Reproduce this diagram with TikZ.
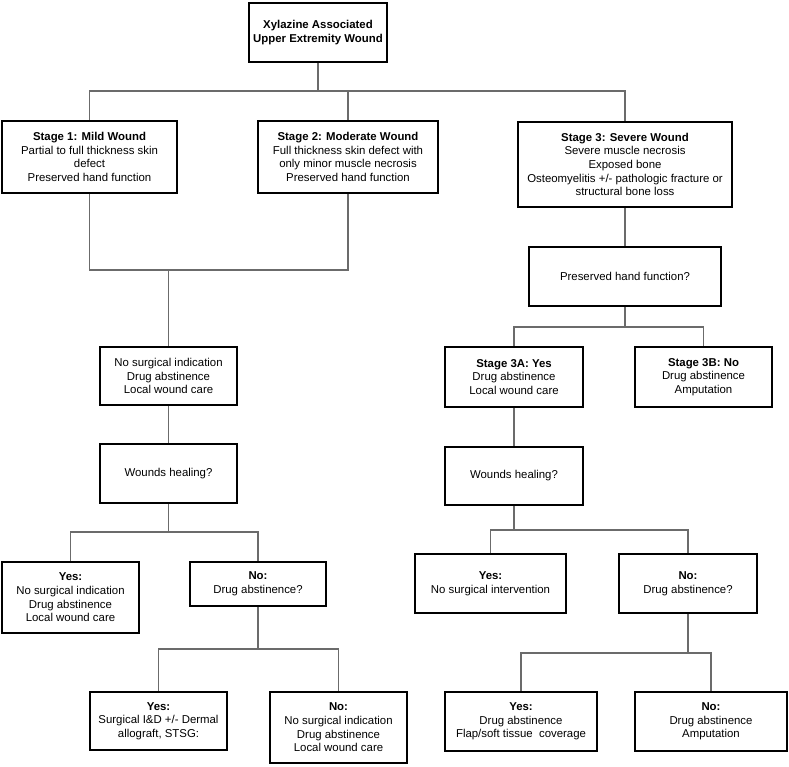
\documentclass[tikz,border=0pt]{standalone}
\usepackage{fontspec}
\setmainfont{Liberation Sans}
\begin{document}
\begin{tikzpicture}[x=1pt,y=-1pt,
  box/.style={draw=black, line width=1.8pt, rectangle, align=center, inner sep=0pt,
    font=\fontsize{11.4}{13.6}\selectfont, text=black},
  conn/.style={draw=black!58, line width=1.4pt}]
\useasboundingbox[fill=white] (0,0) rectangle (789,766);
% nodes
\node[box, minimum width=138, minimum height=59] (top) at (318,32.5) {\textbf{Xylazine Associated}\\\textbf{Upper Extremity Wound}};
\node[box, minimum width=175, minimum height=72] (s1) at (89.5,157) {\textbf{Stage 1: Mild Wound}\\Partial to full thickness skin\\defect\\Preserved hand function};
\node[box, minimum width=180, minimum height=72] (s2) at (348,157) {\textbf{Stage 2: Moderate Wound}\\Full thickness skin defect with\\only minor muscle necrosis\\Preserved hand function};
\node[box, minimum width=214, minimum height=85] (s3) at (625,164.5) {\textbf{Stage 3: Severe Wound}\\Severe muscle necrosis\\Exposed bone\\Osteomyelitis +/- pathologic fracture or\\structural bone loss};
\node[box, minimum width=192, minimum height=59] (phf) at (625,276.5) {Preserved hand function?};
\node[box, minimum width=137, minimum height=58] (nsi) at (168.5,376) {No surgical indication\\Drug abstinence\\Local wound care};
\node[box, minimum width=137, minimum height=59] (whL) at (168.5,473.5) {Wounds healing?};
\node[box, minimum width=138, minimum height=60] (s3a) at (514,377) {\textbf{Stage 3A: Yes}\\Drug abstinence\\Local wound care};
\node[box, minimum width=137, minimum height=60] (s3b) at (703.5,377) {\textbf{Stage 3B: No}\\Drug abstinence\\Amputation};
\node[box, minimum width=138, minimum height=58] (whR) at (514,476) {Wounds healing?};
\node[box, minimum width=137, minimum height=71] (yesL) at (70.5,597.5) {\textbf{Yes:}\\No surgical indication\\Drug abstinence\\Local wound care};
\node[box, minimum width=136, minimum height=44] (noL) at (258,584) {\textbf{No:}\\Drug abstinence?};
\node[box, minimum width=137, minimum height=58] (yesLL) at (158.5,721) {\textbf{Yes:}\\Surgical I\&D +/- Dermal\\allograft, STSG:};
\node[box, minimum width=137, minimum height=71] (noLL) at (338.5,727.5) {\textbf{No:}\\No surgical indication\\Drug abstinence\\Local wound care};
\node[box, minimum width=151, minimum height=59] (yesR) at (490.5,583.5) {\textbf{Yes:}\\No surgical intervention};
\node[box, minimum width=138, minimum height=59] (noR) at (688,583.5) {\textbf{No:}\\Drug abstinence?};
\node[box, minimum width=152, minimum height=59] (yesRR) at (521,721.5) {\textbf{Yes:}\\Drug abstinence\\Flap/soft tissue\ \ coverage};
\node[box, minimum width=152, minimum height=59] (noRR) at (711,721.5) {\textbf{No:}\\Drug abstinence\\Amputation};
% junctions
\coordinate (j1) at (318,91);
\coordinate (j2) at (168.5,270);
\coordinate (j3) at (625,327);
\coordinate (j4) at (168.5,532);
\coordinate (j5) at (514,530);
\coordinate (j6) at (258,649);
\coordinate (j7) at (688,653);
% connectors
\draw[conn] (top.south) -- (j1);
\draw[conn] (s1.north) -- (s1.north |- j1) -- (s3.north |- j1) -- (s3.north);
\draw[conn] (s2.north) -- (s2.north |- j1);
\draw[conn] (s1.south) -- (s1.south |- j2) -- (s2.south |- j2) -- (s2.south);
\draw[conn] (j2) -- (nsi.north);
\draw[conn] (s3.south) -- (phf.north);
\draw[conn] (phf.south) -- (j3);
\draw[conn] (s3a.north) -- (s3a.north |- j3) -- (s3b.north |- j3) -- (s3b.north);
\draw[conn] (nsi.south) -- (whL.north);
\draw[conn] (s3a.south) -- (whR.north);
\draw[conn] (whL.south) -- (j4);
\draw[conn] (yesL.north) -- (yesL.north |- j4) -- (noL.north |- j4) -- (noL.north);
\draw[conn] (whR.south) -- (j5);
\draw[conn] (yesR.north) -- (yesR.north |- j5) -- (noR.north |- j5) -- (noR.north);
\draw[conn] (noL.south) -- (j6);
\draw[conn] (yesLL.north) -- (yesLL.north |- j6) -- (noLL.north |- j6) -- (noLL.north);
\draw[conn] (noR.south) -- (j7);
\draw[conn] (yesRR.north) -- (yesRR.north |- j7) -- (noRR.north |- j7) -- (noRR.north);
\end{tikzpicture}
\end{document}
